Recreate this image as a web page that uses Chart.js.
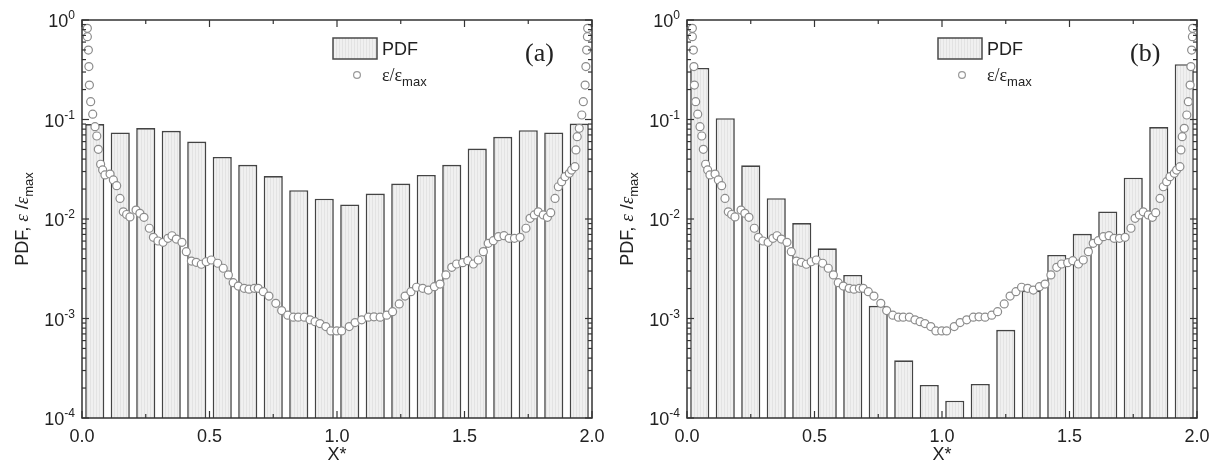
<!DOCTYPE html>
<html lang="en">
<head>
<meta charset="UTF-8">
<title>PDF and dissipation profiles</title>
<style>
    body{
        margin: 0;
        background: #fff;
    }
    .panel{
        position: absolute;
        top: 0;
        width: 610px;
        height: 472px;
    }
</style>
</head>
<body>
<div class="panel" style="left:0"><canvas id="chartA" width="610" height="472"></canvas></div>
<div class="panel" style="left:610px"><canvas id="chartB" width="610" height="472"></canvas></div>
<script src="https://cdn.jsdelivr.net/npm/chart.js@4.4.1/dist/chart.umd.min.js"></script>
<script>
// bin centres of the histogram (X*)
const binCenters = [0.05,0.15,0.25,0.35,0.45,0.55,0.65,0.75,0.85,0.95,1.05,1.15,1.25,1.35,1.45,1.55,1.65,1.75,1.85,1.95];

// PDF, panel (a)
const pdfA = [0.090,0.074,0.082,0.077,0.060,0.042,0.035,0.027,0.0195,0.016,0.014,0.018,0.0227,0.0277,0.035,0.051,0.067,0.078,0.074,0.091];

// PDF, panel (b)
const pdfB = [0.33,0.103,0.0346,0.0162,0.0091,0.00507,0.00274,0.00134,0.00038,0.000215,0.000149,0.00022,0.00077,0.0019,0.00435,0.0071,0.0119,0.026,0.084,0.36];

// eps/eps_max profile (same in both panels)
const epsX = [0.021,0.021,0.025,0.027,0.029,0.034,0.042,0.051,0.058,0.064,0.073,0.081,0.090,0.110,0.123,0.136,0.149,0.162,0.175,0.188,0.212,0.227,0.243,0.264,0.280,
    0.298,0.318,0.337,0.353,0.370,0.392,0.409,0.429,0.448,0.468,0.487,0.507,
    0.532,0.554,0.574,0.593,0.613,0.636,0.655,0.676,0.691,0.711,0.733,0.760,0.783,0.807,0.829,0.848,0.872,0.894,0.914,0.933,0.956,0.976,0.999,1.018,
    1.048,1.071,1.097,1.123,1.145,1.169,1.195,1.218,1.244,1.267,1.290,1.312,1.336,1.358,1.382,1.404,1.427,1.450,1.469,1.493,1.513,1.535,1.554,
    1.574,1.593,1.613,1.633,1.655,1.675,1.696,1.718,1.741,1.757,1.774,1.789,1.809,1.825,1.838,1.855,1.868,1.881,1.894,1.911,1.920,1.933,1.937,1.942,1.950,1.960,1.966,1.973,1.976,1.979,1.982,1.983];
const epsVal = [0.825,0.680,0.499,0.340,0.222,0.151,0.113,0.0847,0.0683,0.0502,0.0355,0.0311,0.0277,0.0283,0.0247,0.0216,0.0161,0.0118,0.0111,0.0105,0.0123,0.0114,0.0104,0.00807,0.00655,
    0.00601,0.00583,0.0064,0.00679,0.00629,0.00583,0.00469,0.00378,0.00367,0.00351,0.00372,0.00387,
    0.00359,0.0032,0.00274,0.00229,0.00212,0.00201,0.00197,0.00201,0.00201,0.00186,0.00168,0.00142,0.0012,0.00108,0.00103,0.00103,0.00103,0.00097,0.00093,0.00089,0.00083,0.00075,0.00075,0.00075,
    0.00083,0.00091,0.00097,0.00103,0.00104,0.00103,0.00108,0.00117,0.0014,0.00168,0.00186,0.00206,0.00201,0.00193,0.00209,0.00222,0.00274,0.00327,0.00353,0.00364,0.00381,0.00353,0.00387,
    0.0047,0.0057,0.00605,0.00664,0.0068,0.0064,0.0064,0.00655,0.00807,0.01016,0.011,0.0118,0.011,0.0104,0.01157,0.0161,0.0211,0.0237,0.0266,0.0288,0.031,0.0336,0.0494,0.0672,0.0816,0.111,0.151,0.222,0.34,0.499,0.68,0.825];

// axis ticks
const xTicks = [0.0,0.5,1.0,1.5,2.0];
const xMinorTicks = [0.25,0.75,1.25,1.75];
const yTicks = [1e-4,1e-3,1e-2,1e-1,1];

const SANS = '"Liberation Sans", Arial, sans-serif';
const SERIF = '"Liberation Serif", "Times New Roman", serif';

// light grey bar fill with faint vertical hatching
function hatch(){
    const c = document.createElement('canvas');
    c.width = 3; c.height = 4;
    const g = c.getContext('2d');
    g.fillStyle = '#f0f0f0';
    g.fillRect(0,0,3,4);
    g.fillStyle = '#e3e3e3';
    g.fillRect(0,0,1,4);
    return g.createPattern(c,'repeat');
}

function seg(ctx, x, y, parts){
    // draw text parts one after another, returns end x
    parts.forEach(p => {
        ctx.font = p.font;
        ctx.fillText(p.t, x, y + (p.dy || 0));
        x += ctx.measureText(p.t).width;
    });
    return x;
}
function segWidth(ctx, parts){
    let w = 0;
    parts.forEach(p => { ctx.font = p.font; w += ctx.measureText(p.t).width; });
    return w;
}

const frame = {
    id: 'frame',
    afterDraw(chart, args, opts){
        const {ctx, chartArea: a, scales: {x, y}} = chart;
        ctx.save();
        ctx.strokeStyle = '#333';
        ctx.fillStyle = '#222';
        const tick = (x1,y1,x2,y2) => { ctx.beginPath(); ctx.moveTo(x1,y1); ctx.lineTo(x2,y2); ctx.stroke(); };

        // box
        ctx.lineWidth = 1.5;
        ctx.strokeRect(a.left, a.top, a.right - a.left, a.bottom - a.top);

        // x ticks, inward on bottom and top
        ctx.lineWidth = 1.2;
        xTicks.forEach(v => {
            const p = x.getPixelForValue(v);
            tick(p, a.bottom, p, a.bottom - 7);
            tick(p, a.top, p, a.top + 7);
        });
        xMinorTicks.forEach(v => {
            const p = x.getPixelForValue(v);
            tick(p, a.bottom, p, a.bottom - 4);
            tick(p, a.top, p, a.top + 4);
        });
        // y ticks, inward on left and right
        yTicks.forEach((v, i) => {
            const p = y.getPixelForValue(v);
            tick(a.left, p, a.left + 7, p);
            tick(a.right, p, a.right - 7, p);
            if (i < yTicks.length - 1) {
                for (let m = 2; m <= 9; m++) {
                    const q = y.getPixelForValue(v * m);
                    tick(a.left, q, a.left + 4, q);
                    tick(a.right, q, a.right - 4, q);
                }
            }
        });

        // x tick labels
        ctx.font = '18px ' + SANS;
        ctx.textAlign = 'center';
        ctx.textBaseline = 'alphabetic';
        xTicks.forEach(v => ctx.fillText(v.toFixed(1), x.getPixelForValue(v), a.bottom + 24));

        // y tick labels 10^n
        ctx.textAlign = 'left';
        yTicks.forEach(v => {
            const p = y.getPixelForValue(v);
            const e = String(Math.round(Math.log10(v)));
            ctx.font = '12px ' + SANS;
            const ew = ctx.measureText(e).width;
            ctx.fillText(e, a.left - 7 - ew, p - 1);
            ctx.font = '18px ' + SANS;
            const bw = ctx.measureText('10').width;
            ctx.fillText('10', a.left - 7 - ew - bw, p + 7);
        });

        // x title
        ctx.font = '18px ' + SANS;
        ctx.textAlign = 'center';
        ctx.fillText('X*', (a.left + a.right) / 2, a.bottom + 42);

        // y title
        ctx.textAlign = 'left';
        const title = [
            {t: 'PDF, ', font: '18px ' + SANS},
            {t: 'ε', font: 'italic 19px ' + SERIF},
            {t: ' /', font: '18px ' + SANS},
            {t: 'ε', font: 'italic 19px ' + SERIF},
            {t: 'max', font: '13px ' + SANS, dy: 5}
        ];
        ctx.save();
        ctx.translate(a.left - 54, (a.top + a.bottom) / 2);
        ctx.rotate(-Math.PI / 2);
        seg(ctx, -segWidth(ctx, title) / 2, 0, title);
        ctx.restore();

        // legend
        const lx = a.left + 251;
        ctx.fillStyle = chart.data.datasets[0].backgroundColor;
        ctx.fillRect(lx, 38, 44, 21);
        ctx.strokeStyle = '#4a4a4a';
        ctx.lineWidth = 1.5;
        ctx.strokeRect(lx, 38, 44, 21);
        ctx.fillStyle = '#222';
        ctx.font = '18px ' + SANS;
        ctx.fillText(chart.data.datasets[0].label, lx + 49, 55);
        ctx.beginPath();
        ctx.arc(lx + 24, 75, 3.4, 0, Math.PI * 2);
        ctx.fillStyle = '#fff';
        ctx.fill();
        ctx.strokeStyle = '#999';
        ctx.lineWidth = 1.2;
        ctx.stroke();
        ctx.fillStyle = '#222';
        seg(ctx, lx + 49, 81, [
            {t: 'ε/ε', font: '18px ' + SERIF},
            {t: 'max', font: '13px ' + SANS, dy: 5}
        ]);

        // panel tag
        ctx.font = '26px ' + SERIF;
        ctx.fillText(opts.tag, a.left + 443, 61);
        ctx.restore();
    }
};

function makePanel(id, pdf, tag, padLeft, padRight){
    const ctx = document.getElementById(id).getContext('2d');
    return new Chart(ctx, {
        type: 'bar',
        data: {
            datasets: [
                {
                    label: 'PDF',
                    data: binCenters.map((c, i) => ({x: c, y: pdf[i]})),
                    backgroundColor: hatch(),
                    borderColor: '#444',
                    borderWidth: 1.6,
                    categoryPercentage: 1,
                    barPercentage: 0.75,
                    order: 2
                },
                {
                    type: 'scatter',
                    label: 'ε/εmax',
                    data: epsX.map((v, i) => ({x: v, y: epsVal[i]})),
                    pointRadius: 4,
                    pointBackgroundColor: '#fff',
                    pointBorderColor: '#8c8c8c',
                    pointBorderWidth: 1.2,
                    order: 1
                }
            ]
        },
        options: {
            responsive: false,
            animation: false,
            layout: {padding: {left: padLeft, right: padRight, top: 20, bottom: 54}},
            scales: {
                x: {type: 'linear', min: 0, max: 2, offset: false, display: false},
                y: {type: 'logarithmic', min: 1e-4, max: 1, display: false}
            },
            plugins: {
                legend: {display: false},
                tooltip: {enabled: false},
                frame: {tag: tag}
            }
        },
        plugins: [frame]
    });
}

makePanel('chartA', pdfA, '(a)', 82, 18);
makePanel('chartB', pdfB, '(b)', 77, 23);
</script>
</body>
</html>
